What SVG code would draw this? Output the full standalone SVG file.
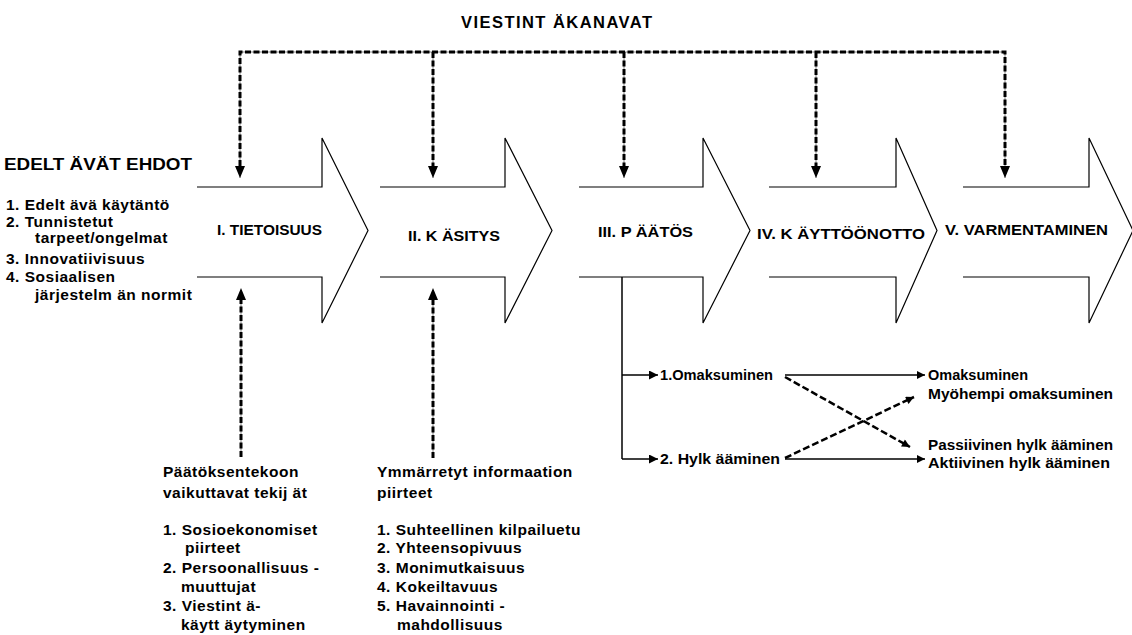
<svg xmlns="http://www.w3.org/2000/svg" width="1132" height="635" viewBox="0 0 1132 635">
<defs>
<style>
text{font-family:"Liberation Sans",Arial,sans-serif;font-weight:bold;fill:#000}
.stage{fill:#fff;stroke:#000;stroke-width:1.2;stroke-linejoin:miter}
.lbl{font-size:15.5px}
.lst{font-size:15.5px;letter-spacing:0.5px}
.sm{font-size:14px}
.dsh{fill:none;stroke:#000;stroke-width:3;stroke-dasharray:6 2.5}
.dshg{fill:none;stroke:#888;stroke-width:1}
.sol{fill:none;stroke:#000;stroke-width:1.5}
.xd{fill:none;stroke:#000;stroke-width:2.5;stroke-dasharray:7 3}
</style>
<marker id="ah" viewBox="0 0 10 10" refX="10" refY="5" markerWidth="9" markerHeight="9" markerUnits="userSpaceOnUse" orient="auto"><path d="M0,0 L10,5 L0,10 Z" fill="#000"/></marker>
<marker id="ahs" viewBox="0 0 10 10" refX="10" refY="5" markerWidth="10" markerHeight="8" markerUnits="userSpaceOnUse" orient="auto"><path d="M0,0 L10,5 L0,10 Z" fill="#000"/></marker>
</defs>

<text x="461" y="28" style="font-size:16.5px" textLength="191" lengthAdjust="spacing">VIESTINT  ÄKANAVAT</text>

<g id="preconditions">
<text x="4" y="170" style="font-size:16.5px" textLength="188" lengthAdjust="spacingAndGlyphs">EDELT ÄVÄT EHDOT</text>
<text class="lst" x="6" y="210">1. Edelt ävä käytäntö</text>
<text class="lst" x="6" y="227">2. Tunnistetut</text>
<text class="lst" x="35" y="243">tarpeet/ongelmat</text>
<text class="lst" x="6" y="264">3. Innovatiivisuus</text>
<text class="lst" x="6" y="282">4. Sosiaalisen</text>
<text class="lst" x="35" y="300">järjestelm än normit</text>
</g>

<g id="stage1">
<path class="stage" d="M197,187 H322 V138 L368,230.5 L322,323 V277 H197"/>
<text class="lbl" x="217" y="235" textLength="105" lengthAdjust="spacingAndGlyphs">I. TIETOISUUS</text>
</g>
<g id="stage2">
<path class="stage" d="M380,187 H505 V138 L552,230.5 L505,323 V277 H380"/>
<text class="lbl" x="408" y="241" textLength="92" lengthAdjust="spacingAndGlyphs">II. K ÄSITYS</text>
</g>
<g id="stage3">
<path class="stage" d="M579,187 H703 V138 L750,230.5 L703,323 V277 H579"/>
<text class="lbl" x="598" y="237" textLength="95" lengthAdjust="spacingAndGlyphs">III. P ÄÄTÖS</text>
</g>
<g id="stage4">
<path class="stage" d="M769,187 H896 V138 L937,230.5 L896,323 V277 H769"/>
<text class="lbl" x="757" y="239" textLength="168" lengthAdjust="spacingAndGlyphs">IV. K ÄYTTÖÖNOTTO</text>
</g>
<g id="stage5">
<path class="stage" d="M963,187 H1089 V138 L1133,230.5 L1089,323 V277 H963"/>
<text class="lbl" x="945" y="235" textLength="163" lengthAdjust="spacingAndGlyphs">V. VARMENTAMINEN</text>
</g>

<g id="factors">
<text class="lst" x="163" y="477">Päätöksentekoon</text>
<text class="lst" x="163" y="498">vaikuttavat tekij ät</text>
<text class="lst" x="163" y="535">1. Sosioekonomiset</text>
<text class="lst" x="185" y="553">piirteet</text>
<text class="lst" x="163" y="573">2. Persoonallisuus  -</text>
<text class="lst" x="181" y="592">muuttujat</text>
<text class="lst" x="163" y="611">3. Viestint ä-</text>
<text class="lst" x="181" y="630">käytt äytyminen</text>
</g>

<g id="attributes">
<text class="lst" x="377" y="477">Ymmärretyt informaation</text>
<text class="lst" x="377" y="498">piirteet</text>
<text class="lst" x="377" y="535">1. Suhteellinen kilpailuetu</text>
<text class="lst" x="377" y="553">2. Yhteensopivuus</text>
<text class="lst" x="377" y="573">3. Monimutkaisuus</text>
<text class="lst" x="377" y="592">4. Kokeiltavuus</text>
<text class="lst" x="377" y="611">5. Havainnointi  -</text>
<text class="lst" x="397" y="630">mahdollisuus</text>
</g>

<g id="decision-options">
<text class="sm" x="660" y="380" textLength="113" lengthAdjust="spacingAndGlyphs">1.Omaksuminen</text>
<text class="sm" x="660" y="464" textLength="120" lengthAdjust="spacingAndGlyphs">2. Hylk ääminen</text>
</g>

<g id="outcomes">
<text class="sm" x="928" y="380" textLength="100" lengthAdjust="spacingAndGlyphs">Omaksuminen</text>
<text class="sm" x="928" y="399" textLength="185" lengthAdjust="spacingAndGlyphs">Myöhempi omaksuminen</text>
<text class="sm" x="928" y="450" textLength="185" lengthAdjust="spacingAndGlyphs">Passiivinen hylk   ääminen</text>
<text class="sm" x="928" y="468" textLength="182" lengthAdjust="spacingAndGlyphs">Aktiivinen hylk   ääminen</text>
</g>

<g id="connectors">
<path class="dshg" d="M240,178 V52 H1005 V178 M433,52 V178 M624,52 V178 M816,52 V178"/>
<path class="dsh" d="M240,166 V52 H1005 V166 M433,52 V166 M624,52 V166 M816,52 V166"/>
<path d="M235,166 H245 L240,178 Z M428,166 H438 L433,178 Z M619,166 H629 L624,178 Z M811,166 H821 L816,178 Z M1000,166 H1010 L1005,178 Z" fill="#000"/>
<path class="dshg" d="M241,457 V290 M433,458 V290"/>
<path class="dsh" d="M241,457 V300 M433,458 V300"/>
<path d="M236,300 H246 L241,288 Z M428,300 H438 L433,288 Z" fill="#000"/>
<path class="sol" d="M622,277 V459"/>
<path class="sol" d="M622,375 H658" marker-end="url(#ah)"/>
<path class="sol" d="M622,459 H658" marker-end="url(#ah)"/>
<path class="sol" d="M785,375 H925" marker-end="url(#ahs)"/>
<path class="sol" d="M785,459 H925" marker-end="url(#ahs)"/>
<path class="xd" d="M785,377 L910,447" marker-end="url(#ahs)"/>
<path class="xd" d="M785,458 L914,397" marker-end="url(#ahs)"/>
</g>
</svg>
